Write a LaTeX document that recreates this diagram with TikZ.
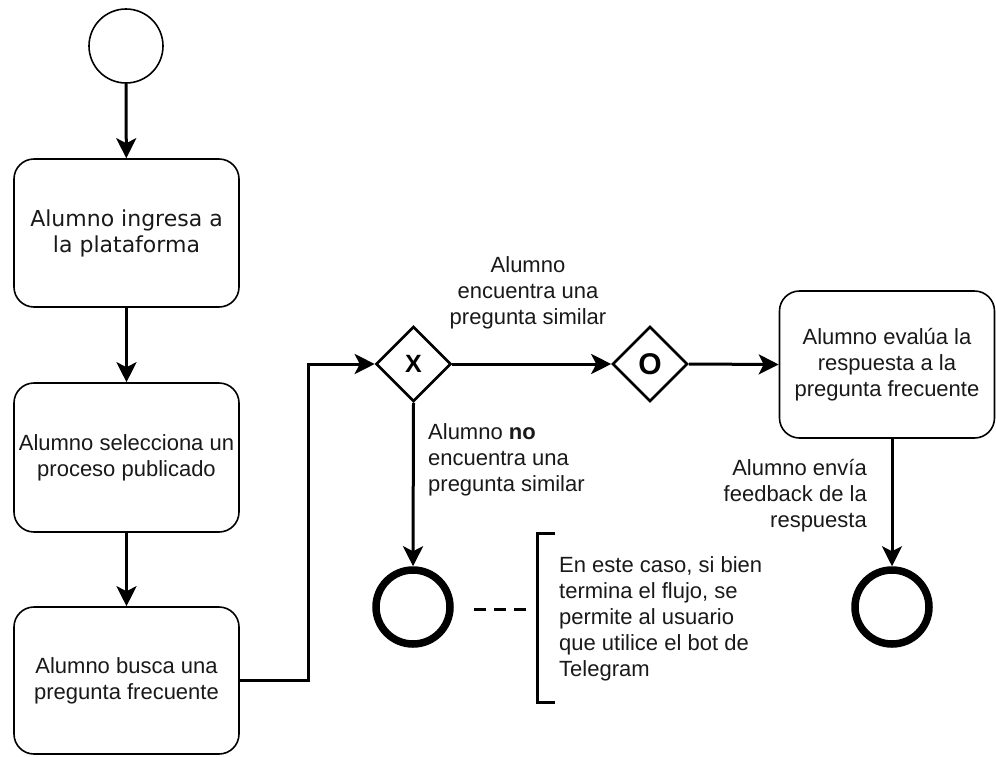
\documentclass[tikz,border=0pt]{standalone}
\usepackage{fontspec}
\setmainfont{Liberation Sans}
\newfontfamily\dejavu{DejaVu Sans}
\usetikzlibrary{shapes.geometric,arrows.meta}

\begin{document}
\begin{tikzpicture}[x=1pt,y=-1pt,
  txt/.style={font=\fontsize{22}{26}\selectfont, text=black!90, inner sep=0pt},
  task/.style={txt, draw, line width=1.6pt, rounded corners=20pt,
    minimum width=225pt, align=center},
  startev/.style={circle, draw, line width=1.6pt, minimum size=74pt, inner sep=0pt},
  endev/.style={circle, draw, line width=7.5pt, minimum size=74pt, inner sep=0pt},
  gate/.style={diamond, draw, line width=2.6pt, minimum size=75pt, inner sep=0pt,
    font=\bfseries},
  flow/.style={line width=3pt, -{Stealth[length=20pt,width=20pt,inset=5pt]}},
  assoc/.style={line width=3pt, dash pattern=on 12pt off 8pt},
  bracketline/.style={line width=3pt},
]
\useasboundingbox (0,0) rectangle (996,756);

% events
\node[startev] (start) at (126,46) {};
\node[endev] (endL) at (413,607) {};
\node[endev] (endR) at (892,607) {};

% tasks
\node[task, minimum height=148pt] (box1) at (126.5,233)
  {\dejavu Alumno ingresa a\\\dejavu la plataforma};
\node[task, minimum height=149pt] (box2) at (126.5,457.5)
  {Alumno selecciona un\\proceso publicado};
\node[task, minimum height=147pt] (box3) at (126.5,680.5)
  {Alumno busca una\\pregunta frecuente};
\node[task, minimum width=215pt, minimum height=147pt] (box4) at (887,364.5)
  {Alumno evalúa la\\respuesta a la\\pregunta frecuente};

% gateways
\node[gate] (gX) at (413.5,364) {\fontsize{25}{25}\selectfont X};
\node[gate] (gO) at (650,364) {\fontsize{30}{30}\selectfont O};

% sequence flows
\draw[flow] (start) -- (box1);
\draw[flow] (box1) -- (box2);
\draw[flow] (box2) -- (box3);
\draw[flow] (box3.east) -- ++(69,0) |- (gX.west);
\draw[flow] (gX.east) -- (gO.west);
\draw[flow] (gO.east) -- (box4.west);
\draw[flow] (gX.south) -- (endL.north);
\draw[flow] (endR |- box4.south) -- (endR.north);

% flow labels
\node[txt, align=center] (lblYes) at (528,293)
  {Alumno\\encuentra una\\pregunta similar};
\node[txt, align=left, anchor=west] (lblNo) at (428,460)
  {Alumno \textbf{no}\\encuentra una\\pregunta similar};
\node[txt, align=right, anchor=east] (lblFb) at (867,496)
  {Alumno envía\\feedback de la\\respuesta};

% text annotation
\coordinate (assocA) at (474,609);
\coordinate (assocB) at (526,609);
\draw[assoc] (assocA) -- (assocB);
\draw[bracketline] (555,533) -- (537,533) -- (537,702) -- (555,702);
\node[txt, align=left, anchor=west] (note) at (559,619)
  {En este caso, si bien\\termina el flujo, se\\permite al usuario\\que utilice el bot de\\Telegram};
\end{tikzpicture}
\end{document}
